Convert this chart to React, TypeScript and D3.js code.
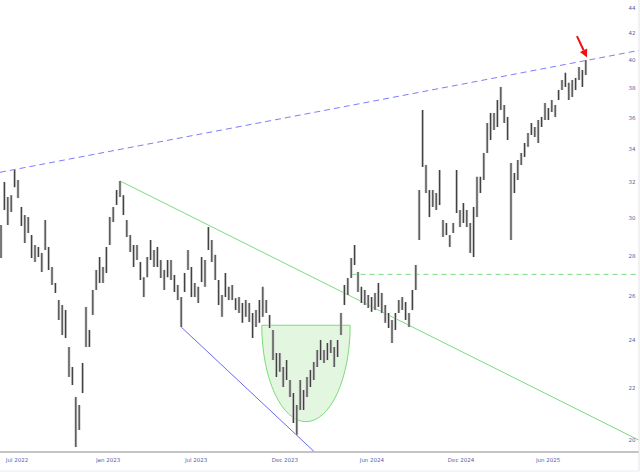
import React from "react";
import * as d3 from "d3";

const W = 640;
const H = 472;

// weekly high / low prices
const highs = [
  29.61, 32.03, 31.16, 31.27, 32.74, 32.15, 30.6, 30.15, 30.04, 29.07,
  28.55, 28.45, 28.14, 29.88, 28.45, 27.43, 26.64, 25.82, 25.59, 25.36,
  23.7, 22.85, 21.63, 21.32, 23.02, 25.5, 24.45, 26.3, 27.28, 27.93,
  27.43, 28.45, 30.04, 30.6, 31.56, 32.09, 31.27, 29.88, 29.07, 28.55,
  28.55, 27.68, 26.92, 27.93, 28.81, 28.29, 28.45, 27.78, 27.28, 27.78,
  27.78, 27.03, 26.54, 25.96, 27.13, 28.29, 27.43, 26.64, 26.45, 27.93,
  27.78, 29.5, 28.81, 28.04, 26.78, 26.06, 27.13, 26.45, 26.54, 25.91,
  25.96, 25.68, 25.82, 25.68, 25.22, 25.36, 25.82, 26.45, 25.82, 25.13,
  24.45, 23.44, 23.44, 22.85, 23.14, 22.31, 21.79, 21.32, 22.31, 21.91,
  22.44, 22.73, 23.06, 23.57, 24.0, 23.57, 23.87, 24.0, 23.7, 24.0,
  25.22, 26.54, 26.88, 27.88, 28.55, 27.18, 26.45, 26.3, 26.06, 25.96,
  26.16, 26.64, 26.16, 25.59, 25.22, 24.9, 25.22, 25.82, 25.96, 25.73,
  25.22, 26.3, 27.53, 31.56, 36.53, 33.04, 31.56, 31.56, 31.39, 32.74,
  29.88, 29.72, 29.07, 29.72, 32.74, 30.43, 30.82, 30.43, 29.72, 30.6,
  32.33, 32.33, 33.77, 35.67, 36.33, 36.33, 37.2, 38.1, 36.86, 36.07,
  33.16, 32.56, 33.34, 33.77, 34.39, 35.03, 35.67, 35.41, 35.87, 36.07,
  37.0, 36.66, 37.2, 36.86, 37.89, 38.59, 39.09, 38.38, 38.59, 38.73,
  39.51, 39.3, 40.01,
];
const lows = [
  27.88, 30.43, 29.61, 30.32, 31.73, 31.1, 29.56, 28.65, 29.18, 27.88,
  27.68, 27.93, 27.18, 28.29, 27.28, 26.54, 26.16, 24.9, 24.22, 24.09,
  22.44, 22.11, 19.75, 20.37, 21.79, 23.7, 23.7, 25.13, 26.3, 26.64,
  26.64, 27.13, 28.55, 29.77, 30.71, 31.16, 30.15, 28.97, 28.19, 27.43,
  27.78, 26.78, 25.96, 26.92, 27.78, 27.43, 27.43, 26.88, 26.3, 26.92,
  26.78, 26.2, 25.82, 24.58, 26.2, 27.28, 25.96, 25.96, 25.68, 26.68,
  26.45, 28.29, 27.68, 26.78, 25.59, 25.04, 25.96, 25.82, 25.82, 25.36,
  25.22, 24.77, 25.04, 24.81, 24.09, 24.58, 24.77, 25.04, 25.22, 24.54,
  23.14, 22.44, 22.65, 22.03, 22.31, 21.63, 20.63, 20.19, 21.13, 21.13,
  21.63, 22.03, 22.31, 22.85, 23.14, 23.02, 23.14, 23.44, 22.85, 23.27,
  24.22, 25.59, 26.06, 26.88, 27.53, 26.2, 25.68, 25.59, 25.45, 25.27,
  25.36, 25.5, 25.22, 24.77, 24.54, 23.87, 24.45, 25.22, 25.36, 24.9,
  24.58, 25.36, 26.3, 28.81, 32.92, 31.39, 30.04, 30.6, 30.43, 30.71,
  28.97, 29.07, 28.45, 29.18, 30.26, 29.5, 29.72, 29.5, 28.14, 27.93,
  30.04, 31.39, 32.15, 33.77, 34.58, 35.22, 35.41, 36.53, 35.67, 34.58,
  28.81, 31.39, 32.15, 33.04, 33.53, 34.15, 34.9, 34.77, 34.39, 35.41,
  35.87, 35.87, 36.4, 36.07, 37.2, 37.89, 38.1, 37.2, 37.41, 37.89,
  38.59, 38.1, 38.94,
];

const yTicks = [20, 22, 24, 26, 28, 30, 32, 34, 36, 38, 40, 42, 44];
const xTickLabels = ["Jul 2022", "Jan 2023", "Jul 2023", "Dec 2023", "Jun 2024", "Dec 2024", "Jun 2025"];
const xTickIdx = [4.7, 31.5, 57.4, 83.5, 109.1, 135.3, 160.9];

// annotations in (bar index, price)
const resistance = [{ i: -0.3, p: 32.6 }, { i: 188, p: 40.74 }];
const downTrend = [{ i: 35, p: 32.09 }, { i: 188, p: 19.97 }];
const lowerTrend = [{ i: 53, p: 24.58 }, { i: 92.2, p: 19.57 }];
const cup = { i0: 76.7, i1: 102.7, top: 24.66, bottom: 20.68 };
const breakout = { i0: 103.1, i1: 188, p: 27.06 };
const arrow = { i0: 169.4, p0: 41.8, i1: 172.35, p1: 40.2 };

export default function App() {
  const x = d3.scaleLinear().domain([0, highs.length - 1]).range([1, 585.8]);
  const y = d3.scaleLog().domain([20, 44]).range([440, 8]);
  const bw = (x(1) - x(0)) * 0.8;

  const cx0 = x(cup.i0), cx1 = x(cup.i1);
  const cyT = y(cup.top), cyB = y(cup.bottom);
  const rx = (cx1 - cx0) / 2, ry = cyB - cyT;
  const cupPath = `M${cx0},${cyT} A${rx},${ry} 0 0 0 ${cx1},${cyT} Z`;

  const ax0 = x(arrow.i0), ay0 = y(arrow.p0), ax1 = x(arrow.i1), ay1 = y(arrow.p1);
  const ang = Math.atan2(ay1 - ay0, ax1 - ax0);
  const hl = 8, hw = 4;
  const bx = ax1 - hl * Math.cos(ang), by = ay1 - hl * Math.sin(ang);
  const head = `M${ax1},${ay1} L${bx + hw * Math.sin(ang)},${by - hw * Math.cos(ang)} L${bx - hw * Math.sin(ang)},${by + hw * Math.cos(ang)} Z`;

  return (
    <svg width={W} height={H} style={{ position: "absolute", left: 0, top: 0, background: "#fff" }}
      fontFamily="DejaVu Sans, sans-serif">
      <defs>
        <clipPath id="plot"><rect x={0} y={0} width={639} height={452} /></clipPath>
      </defs>
      <rect x={0} y={0} width={W} height={H} fill="#fff" />
      <g clipPath="url(#plot)">
        <path d={cupPath} fill="#e3f6e0" stroke="#7bdc7b" strokeWidth={1} />
        <line x1={x(resistance[0].i)} y1={y(resistance[0].p)} x2={x(resistance[1].i)} y2={y(resistance[1].p)}
          stroke="#7d7dff" strokeWidth={1} strokeDasharray="6,4" />
        <line x1={x(downTrend[0].i)} y1={y(downTrend[0].p)} x2={x(downTrend[1].i)} y2={y(downTrend[1].p)}
          stroke="#7bdc7b" strokeWidth={1} />
        <line x1={x(lowerTrend[0].i)} y1={y(lowerTrend[0].p)} x2={x(lowerTrend[1].i)} y2={y(lowerTrend[1].p)}
          stroke="#6a6af0" strokeWidth={1} />
        <line x1={x(breakout.i0)} y1={y(breakout.p)} x2={x(breakout.i1)} y2={y(breakout.p)}
          stroke="#7bdc7b" strokeWidth={1} strokeDasharray="5,4" />
        {highs.map((h, i) => (
          <rect key={"r" + i} x={x(i) - bw / 2} width={bw} y={y(h)} height={y(lows[i]) - y(h)} fill="#c4c4c4" />
        ))}
        {highs.map((h, i) => (
          <line key={i} x1={x(i)} x2={x(i)} y1={y(h)} y2={y(lows[i])} stroke="#3c3c3c" strokeWidth={1.1} />
        ))}
        <line x1={ax0} y1={ay0} x2={bx} y2={by} stroke="#ee1111" strokeWidth={2} />
        <path d={head} fill="#ee1111" />
      </g>
      <line x1={0} x2={639} y1={452} y2={452} stroke="#b0b0b0" strokeWidth={1.5} />
      <line x1={639} x2={639} y1={0} y2={471} stroke="#e4e4e4" strokeWidth={1} />
      <line x1={0} x2={639} y1={471} y2={471} stroke="#e8eef0" strokeWidth={1} />
      {yTicks.map((t) => (
        <text key={t} x={632} y={y(t)} dy="0.35em" textAnchor="middle" fontSize={5.5} fill="#4f5fa8">{t}</text>
      ))}
      {xTickLabels.map((l, k) => (
        <text key={l} x={x(xTickIdx[k])} y={462} textAnchor="middle" fontSize={5.5} fill="#4f5fa8">{l}</text>
      ))}
    </svg>
  );
}
